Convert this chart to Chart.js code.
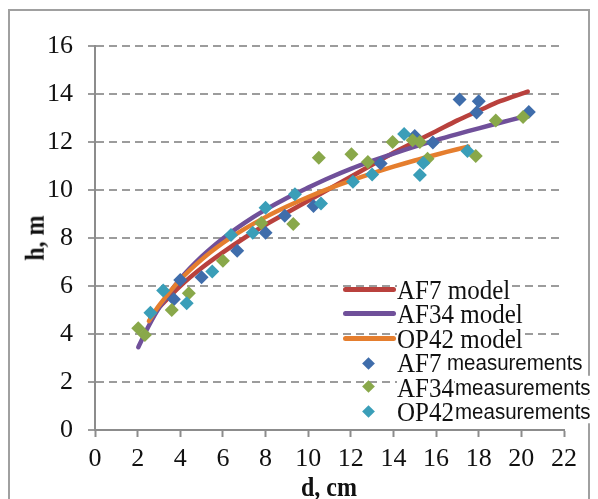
<!DOCTYPE html>
<html>
<head>
<meta charset="utf-8">
<script src="https://cdn.jsdelivr.net/npm/chart.js@4/dist/chart.umd.min.js"></script>
<style>
  body { margin: 0; background: #fff; }
  #wrap { position: relative; width: 598px; height: 499px; overflow: hidden; }
  #frame { position: absolute; left: 8px; top: 9px; width: 582px; height: 520px; border: 2px solid #a0a0a0; box-sizing: border-box; }
  canvas { position: absolute; left: 0; top: 0; }
  .lbl { position: absolute; white-space: nowrap; line-height: 1; color: #111; transform: scaleY(1.12); transform-origin: left center; }
  .serif { font-family: "Liberation Serif", "DejaVu Serif", serif; font-size: 25px; }
  .sans { font-family: "Liberation Sans", Arial, sans-serif; font-size: 20.5px; }
  .bg { background: #fff; }
  .swatch { position: absolute; height: 5px; border-radius: 3px; }
  .dia { position: absolute; width: 9px; height: 9px; transform: rotate(45deg); }
  .title { position: absolute; font-family: "Liberation Serif", serif; font-weight: bold; font-size: 24px; line-height: 1; color: #111; white-space: nowrap; }
</style>
</head>
<body>
<div id="wrap">
  <div id="frame"></div>
  <canvas id="chart" width="598" height="499"></canvas>

  <div class="title" style="left:35px; top:238px; transform: translate(-50%,-50%) rotate(-90deg) scaleY(1.1);">h, m</div>
  <div class="title" style="left:329px; top:487px; transform: translate(-50%,-50%) scaleY(1.1);">d, cm</div>

  <div class="swatch" style="left:343px; top:287px; width:53px; background:#b9413d;"></div>
  <div class="lbl serif bg" style="left:397px; top:277px;">AF7 model</div>
  <div class="swatch" style="left:343px; top:311px; width:53px; background:#70509a;"></div>
  <div class="lbl serif bg" style="left:397px; top:301px;">AF34 model</div>
  <div class="swatch" style="left:343px; top:336px; width:53px; background:#e57e2e;"></div>
  <div class="lbl serif bg" style="left:397px; top:326px;">OP42 model</div>

  <div class="dia" style="left:364px; top:359px; background:#3f6dab;"></div>
  <div class="lbl serif bg" style="left:397px; top:350px;">AF7</div>
  <div class="lbl sans bg" style="left:447px; top:352px;">measurements</div>
  <div class="dia" style="left:364px; top:382px; background:#89a84a;"></div>
  <div class="lbl serif bg" style="left:397px; top:375px;">AF34</div>
  <div class="lbl sans bg" style="left:455px; top:377px;">measurements</div>
  <div class="dia" style="left:364px; top:407px; background:#3a9eb8;"></div>
  <div class="lbl serif bg" style="left:397px; top:399px;">OP42</div>
  <div class="lbl sans bg" style="left:455px; top:401px;">measurements</div>
</div>

<script>
// tick values
const xTicks = [0, 2, 4, 6, 8, 10, 12, 14, 16, 18, 20, 22];
const yTicks = [0, 2, 4, 6, 8, 10, 12, 14, 16];

// model curves
const af7ModelD = [2.6, 3, 4, 5, 6, 7, 8, 9, 10, 11, 12, 13, 14, 15, 16, 17, 18, 19, 20.3];
const af7ModelH = [4.7, 5.1, 6.0, 6.75, 7.4, 8.0, 8.55, 9.05, 9.55, 10.05, 10.55, 11.05, 11.55, 12.0, 12.45, 12.9, 13.3, 13.7, 14.1];

const af34ModelD = [2.03, 2.5, 3, 4, 5, 6, 7, 8, 9, 10, 11, 12, 13, 14, 15, 16, 17, 18, 19, 20.05];
const af34ModelH = [3.45, 4.3, 5.08, 6.29, 7.22, 7.98, 8.62, 9.18, 9.67, 10.1, 10.51, 10.88, 11.21, 11.52, 11.81, 12.08, 12.33, 12.57, 12.8, 13.04];

const op42ModelD = [2.53, 3, 4, 5, 6, 7, 8, 9, 10, 11, 12, 13, 14, 15, 16, 17, 17.5];
const op42ModelH = [4.54, 5.18, 6.26, 7.1, 7.79, 8.37, 8.87, 9.31, 9.71, 10.07, 10.39, 10.69, 10.97, 11.23, 11.47, 11.7, 11.81];

// measured trees
const af7MeasD = [3.7, 4.0, 5.0, 6.67, 8.0, 8.9, 10.25, 13.4, 15.0, 15.85, 17.1, 17.9, 18.0, 20.35];
const af7MeasH = [5.45, 6.25, 6.36, 7.47, 8.22, 8.93, 9.33, 11.1, 12.25, 11.98, 13.77, 13.23, 13.7, 13.25];

const af34MeasD = [2.03, 2.34, 3.6, 4.4, 6.0, 7.8, 9.3, 10.5, 12.03, 12.8, 13.96, 14.9, 15.24, 15.6, 17.86, 18.8, 20.08];
const af34MeasH = [4.24, 3.96, 5.0, 5.7, 7.05, 8.62, 8.58, 11.34, 11.49, 11.17, 12.0, 12.07, 12.0, 11.3, 11.42, 12.9, 13.04];

const op42MeasD = [2.6, 3.2, 4.3, 5.5, 6.38, 7.4, 8.0, 9.38, 10.6, 12.1, 13.0, 14.5, 15.24, 15.4, 17.47];
const op42MeasH = [4.89, 5.81, 5.28, 6.6, 8.12, 8.22, 9.26, 9.82, 9.44, 10.34, 10.65, 12.33, 10.62, 11.13, 11.63];

function pts(xs, ys) {
    return xs.map((x, i) => ({ x: x, y: ys[i] }));
}

function lineSet(label, xs, ys, color, order) {
    return {
        label: label,
        data: pts(xs, ys),
        showLine: true,
        borderColor: color,
        backgroundColor: color,
        borderWidth: 4.5,
        borderCapStyle: 'round',
        borderJoinStyle: 'round',
        pointRadius: 0,
        tension: 0.3,
        order: order
    };
}

function markerSet(label, xs, ys, color, order) {
    return {
        label: label,
        data: pts(xs, ys),
        showLine: false,
        pointStyle: 'rectRot',
        pointRadius: 7,
        pointBorderWidth: 0,
        backgroundColor: color,
        borderColor: color,
        order: order
    };
}

const tickFont = { family: '"Liberation Serif", serif', size: 26 };

new Chart(document.querySelector('#chart').getContext('2d'), {
    type: 'scatter',
    data: {
        datasets: [
            lineSet('AF7 model', af7ModelD, af7ModelH, '#b9413d', 6),
            lineSet('AF34 model', af34ModelD, af34ModelH, '#70509a', 5),
            lineSet('OP42 model', op42ModelD, op42ModelH, '#e57e2e', 4),
            markerSet('AF7 measurements', af7MeasD, af7MeasH, '#3f6dab', 3),
            markerSet('AF34 measurements', af34MeasD, af34MeasH, '#89a84a', 2),
            markerSet('OP42 measurements', op42MeasD, op42MeasH, '#3a9eb8', 1)
        ]
    },
    options: {
        responsive: false,
        animation: false,
        devicePixelRatio: 1,
        layout: { padding: { top: 46, right: 34, left: 0, bottom: 0 } },
        plugins: { legend: { display: false }, tooltip: { enabled: false } },
        scales: {
            x: {
                type: 'linear',
                min: 0,
                max: 22,
                afterBuildTicks: scale => { scale.ticks = xTicks.map(v => ({ value: v })); },
                afterFit: scale => { scale.height = 69; },
                grid: { drawOnChartArea: false, drawTicks: true, tickLength: 7, tickColor: '#8c8c8c', tickWidth: 2 },
                border: { color: '#8c8c8c', width: 2 },
                ticks: { font: tickFont, color: '#111', padding: 7, maxRotation: 0 }
            },
            y: {
                type: 'linear',
                min: 0,
                max: 16,
                afterBuildTicks: scale => { scale.ticks = yTicks.map(v => ({ value: v })); },
                afterFit: scale => { scale.width = 95; },
                grid: { color: '#9c9c9c', lineWidth: 2, drawTicks: true, tickLength: 7, tickColor: '#9c9c9c', tickWidth: 2 },
                border: { color: '#8c8c8c', width: 2, dash: [8, 5] },
                ticks: { font: tickFont, color: '#111', padding: 15 }
            }
        }
    }
});
</script>
</body>
</html>
